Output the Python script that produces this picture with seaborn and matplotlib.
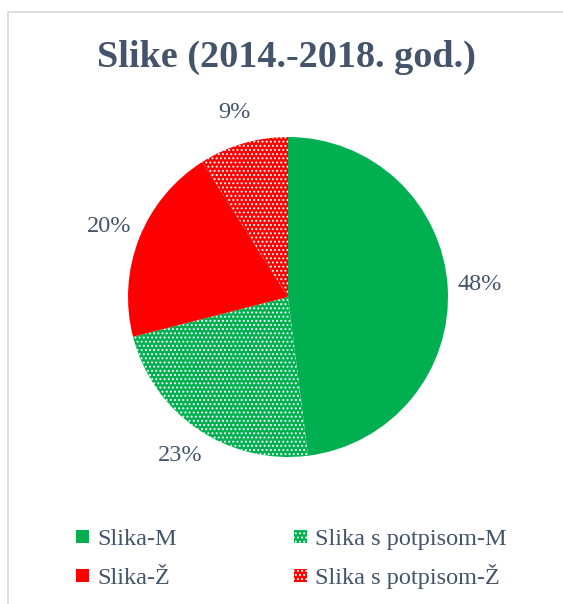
import matplotlib.pyplot as plt
import matplotlib.patches as mpatches
from matplotlib.legend_handler import HandlerPatch
import seaborn as sns

# podaci
kategorije = ['Slika-M', 'Slika s potpisom-M', 'Slika-Ž', 'Slika s potpisom-Ž']
udjeli = [48, 23, 20, 9]
boje = ['#00B050', '#00B050', '#FF0000', '#FF0000']
uzorci = [None, '....', None, '....']

sns.set_theme(style='white')
plt.rcParams['font.family'] = ['Liberation Serif', 'DejaVu Serif']
plt.rcParams['hatch.linewidth'] = 0.9

tekst_boja = '#44546A'

fig = plt.figure(figsize=(5.63, 6.04), dpi=100)

# okvir grafikona
fig.patches.append(mpatches.Rectangle((8 / 563, -0.01), 1.0, 1 - 12 / 604 + 0.01,
                                      transform=fig.transFigure, fill=False,
                                      edgecolor='#D9D9D9', linewidth=1.2))

ax = fig.add_axes([128 / 563, (604 - 457) / 604, 320 / 563, 320 / 604])

wedges, texts, autotexts = ax.pie(
    udjeli,
    colors=boje,
    startangle=90,
    counterclock=False,
    autopct='%1.0f%%',
    pctdistance=1.2,
    radius=1,
    wedgeprops=dict(linewidth=0),
    textprops=dict(color=tekst_boja, fontsize=17.5),
)
for w, h in zip(wedges, uzorci):
    if h:
        w.set_hatch(h)
        w.set_edgecolor('white')
        w.set_linewidth(0)

ax.set_xlim(-1, 1)
ax.set_ylim(-1, 1)
ax.set_aspect('equal')

fig.text(286 / 563, 1 - 57 / 604, 'Slike (2014.-2018. god.)', ha='center', va='center',
         fontsize=27.5, fontweight='bold', color=tekst_boja)


# mali kvadrat u legendi, a visina retka ista za sve stupce
def mali_kvadrat(legend, orig_handle, xdescent, ydescent, width, height, fontsize):
    s = 0.55 * fontsize
    return mpatches.Rectangle((-xdescent + (width - s) / 2, -ydescent + (height - s) / 2), s, s)


red = [0, 2, 1, 3]
leg = fig.legend([wedges[i] for i in red], [kategorije[i] for i in red],
                 ncol=2, loc='center', bbox_to_anchor=(291 / 563, 1 - 556 / 604),
                 frameon=False, fontsize=17.5, handlelength=0.6, handleheight=1.4,
                 handletextpad=0.3, columnspacing=4.8, labelspacing=0.45,
                 handler_map={mpatches.Wedge: HandlerPatch(patch_func=mali_kvadrat)})
for t in leg.get_texts():
    t.set_color(tekst_boja)

fig.savefig('out.png', dpi=100)
